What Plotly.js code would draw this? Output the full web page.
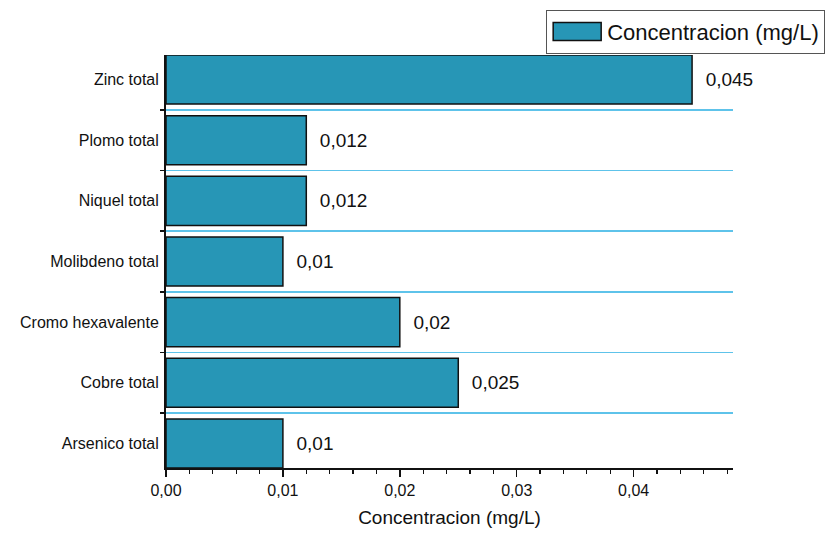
<!DOCTYPE html>
<html>
<head>
<meta charset="utf-8">
<script src="https://cdn.plot.ly/plotly-3.0.1.min.js"></script>
<style>
  html, body { margin: 0; padding: 0; background: #fff; }
  #chart { width: 826px; height: 535px; }
</style>
</head>
<body>
<div id="chart"></div>
<script>
// Metal concentrations (mg/L), listed bottom to top
const categories = ['Arsenico total', 'Cobre total', 'Cromo hexavalente', 'Molibdeno total', 'Niquel total', 'Plomo total', 'Zinc total'];
const concentration = [0.01, 0.025, 0.02, 0.01, 0.012, 0.012, 0.045];
const xTickValues = [0, 0.01, 0.02, 0.03, 0.04];
const seriesName = 'Concentracion (mg/L)';

// value labels use a decimal comma
const valueLabels = concentration.map(v => '\u00a0\u00a0' + String(v).replace('.', ','));

const trace = {
  type: 'bar',
  orientation: 'h',
  name: seriesName,
  y: categories,
  x: concentration,
  width: 0.81,
  text: valueLabels,
  textposition: 'outside',
  cliponaxis: false,
  textfont: { family: 'Liberation Sans, Arial, sans-serif', size: 19, color: '#111' },
  marker: { color: '#2796b6', line: { color: '#111', width: 1.5 } },
  hoverinfo: 'skip'
};

const layout = {
  width: 826,
  height: 535,
  margin: { l: 166, r: 93, t: 55, b: 67, autoexpand: false },
  paper_bgcolor: '#fff',
  plot_bgcolor: '#fff',
  separators: ',.',
  font: { family: 'Liberation Sans, Arial, sans-serif', color: '#111' },
  showlegend: true,
  legend: {
    xref: 'container', yref: 'container',
    x: 0.999, xanchor: 'right',
    y: 0.982, yanchor: 'top',
    bgcolor: '#fff',
    bordercolor: '#555',
    borderwidth: 1,
    itemwidth: 50,
    tracegroupgap: 0,
    font: { size: 22, color: '#111' }
  },
  xaxis: {
    range: [0, 0.0485],
    tickvals: xTickValues,
    tickformat: '.2f',
    ticks: 'outside',
    ticklen: 7,
    tickwidth: 1.5,
    tickcolor: '#111',
    minor: { dtick: 0.002, ticks: 'outside', ticklen: 4, tickwidth: 1.2, tickcolor: '#111', showgrid: false },
    showline: true,
    linecolor: '#111',
    linewidth: 2,
    showgrid: false,
    zeroline: false,
    tickfont: { size: 16 },
    title: { text: 'Concentracion (mg/L)', font: { size: 19 }, standoff: 12 }
  },
  yaxis: {
    type: 'category',
    range: [-0.405, 6.405],
    tickson: 'boundaries',
    ticks: 'outside',
    ticklen: 4,
    tickwidth: 1.5,
    tickcolor: '#111',
    ticklabelstandoff: 2,
    showline: true,
    linecolor: '#111',
    linewidth: 2,
    showgrid: true,
    gridcolor: '#5ec3ea',
    gridwidth: 1.5,
    zeroline: false,
    tickfont: { size: 16 }
  }
};

Plotly.newPlot('chart', [trace], layout, { staticPlot: true, displayModeBar: false }).then(gd => {
  // widen the legend swatch into a long bar
  gd.querySelectorAll('.legend .legendpoints path').forEach(p => {
    p.setAttribute('d', 'M-24,9H24V-9H-24Z');
  });
});
</script>
</body>
</html>
